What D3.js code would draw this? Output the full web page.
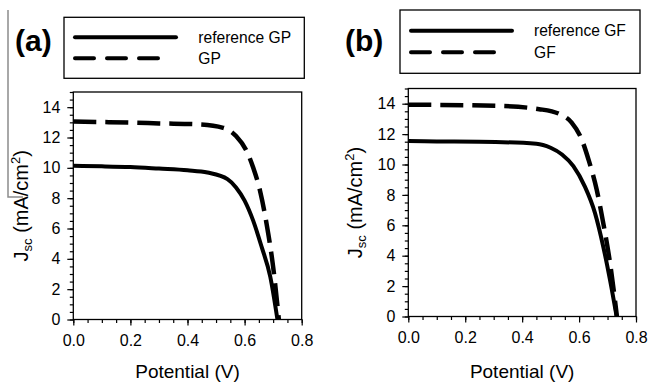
<!DOCTYPE html>
<html lang="en">
<head>
<meta charset="UTF-8">
<title>J-V curves</title>
<style>
    body {
        margin: 0;
        padding: 0;
        background: #fff;
        overflow: hidden;
    }
    svg text {
        font-family: "Liberation Sans", Arial, sans-serif;
        fill: #000;
    }
</style>
</head>
<body>
<div id="chart"></div>
<script src="https://d3js.org/d3.v7.min.js"></script>
<script>
    // panel (a): reference GP vs GP
    const voltsRefGP = [0, 0.1, 0.2, 0.3, 0.4, 0.47, 0.54, 0.57, 0.60, 0.63, 0.66, 0.69, 0.715];
    const jscRefGP   = [10.13, 10.1, 10.05, 9.95, 9.84, 9.69, 9.26, 8.71, 7.84, 6.52, 4.77, 2.81, 0];
    const voltsGP    = [0, 0.1, 0.2, 0.3, 0.44, 0.525, 0.57, 0.607, 0.63, 0.654, 0.677, 0.70, 0.72];
    const jscGP      = [13.05, 13.02, 12.98, 12.93, 12.87, 12.64, 12.1, 11.11, 10.02, 8.49, 6.31, 3.46, 0];

    // panel (b): reference GF vs GF
    const voltsRefGF = [0, 0.1, 0.25, 0.45, 0.5, 0.54, 0.58, 0.62, 0.656, 0.685, 0.709, 0.732];
    const jscRefGF   = [11.54, 11.52, 11.5, 11.37, 11.1, 10.66, 9.89, 8.56, 6.8, 4.59, 2.38, 0];
    const voltsGF    = [0, 0.1, 0.31, 0.46, 0.533, 0.574, 0.609, 0.633, 0.662, 0.685, 0.709, 0.733];
    const jscGF      = [13.93, 13.92, 13.86, 13.64, 13.31, 12.76, 11.66, 10.33, 8.34, 6.14, 3.49, 0];

    const xTicks = [0, 0.2, 0.4, 0.6, 0.8];
    const yTicks = [0, 2, 4, 6, 8, 10, 12, 14];

    const W = 648, H = 382;
    const svg = d3.select('#chart').append('svg')
        .attr('width', W)
        .attr('height', H);

    // stray grey line at the far left of the original figure
    svg.append('path')
        .attr('d', 'M8,10 V197 H23')
        .attr('fill', 'none')
        .attr('stroke', '#8c8c8c')
        .attr('stroke-width', 1.5);

    const zip = (xs, ys) => xs.map((x, i) => ({ v: x, j: ys[i] }));

    function drawPanel(p) {
        const x = d3.scaleLinear().domain([0, 0.8]).range([p.left, p.right]);
        const y = d3.scaleLinear().domain([0, 15]).range([p.bottom, p.top]);
        const g = svg.append('g');

        // frame
        g.append('rect')
            .attr('x', p.left).attr('y', p.top)
            .attr('width', p.right - p.left).attr('height', p.bottom - p.top)
            .attr('fill', 'none').attr('stroke', '#000').attr('stroke-width', 1.3);

        // minor ticks
        g.append('g')
            .attr('transform', `translate(0,${p.bottom})`)
            .call(d3.axisBottom(x).tickValues(d3.range(0, 0.8001, 0.05)).tickSize(3.5).tickFormat(''))
            .call(a => a.select('.domain').remove());
        g.append('g')
            .attr('transform', `translate(${p.left},0)`)
            .call(d3.axisLeft(y).tickValues(d3.range(0, 15.001, 0.5)).tickSize(3.5).tickFormat(''))
            .call(a => a.select('.domain').remove());

        // major ticks + labels
        const xa = g.append('g')
            .attr('transform', `translate(0,${p.bottom})`)
            .call(d3.axisBottom(x).tickValues(xTicks).tickSize(6).tickPadding(9).tickFormat(d3.format('.1f')));
        xa.select('.domain').remove();
        xa.selectAll('text').style('font-size', '16px');

        const ya = g.append('g')
            .attr('transform', `translate(${p.left},0)`)
            .call(d3.axisLeft(y).tickValues(yTicks).tickSize(6).tickPadding(7));
        ya.select('.domain').remove();
        ya.selectAll('text').style('font-size', '16px');

        g.selectAll('.tick line').attr('stroke', '#000').attr('stroke-width', 1.2);

        // axis titles
        g.append('text')
            .attr('x', (p.left + p.right) / 2)
            .attr('y', 378)
            .attr('text-anchor', 'middle')
            .style('font-size', '19px')
            .text('Potential (V)');

        const yl = g.append('text')
            .attr('transform', `translate(${p.ylabelX},${(p.top + p.bottom) / 2}) rotate(-90)`)
            .attr('text-anchor', 'middle')
            .style('font-size', '20px');
        yl.append('tspan').text('J');
        yl.append('tspan').attr('dy', 4).style('font-size', '13px').text('sc');
        yl.append('tspan').attr('dy', -4).text(' (mA/cm');
        yl.append('tspan').attr('dy', -8).style('font-size', '13px').text('2');
        yl.append('tspan').attr('dy', 8).text(')');

        // curves
        const line = d3.line()
            .x(d => x(d.v))
            .y(d => y(d.j))
            .curve(d3.curveMonotoneX);

        g.append('path')
            .datum(zip(p.refV, p.refJ))
            .attr('d', line)
            .attr('fill', 'none')
            .attr('stroke', '#000')
            .attr('stroke-width', 4);

        g.append('path')
            .datum(zip(p.sampV, p.sampJ))
            .attr('d', line)
            .attr('fill', 'none')
            .attr('stroke', '#000')
            .attr('stroke-width', 4.5)
            .attr('stroke-dasharray', '23,9');

        // panel letter
        g.append('text')
            .attr('x', p.letterX)
            .attr('y', 51)
            .style('font-size', '30px')
            .style('font-weight', 'bold')
            .text(p.letter);

        // legend
        const lg = p.legend;
        g.append('rect')
            .attr('x', lg.x0).attr('y', lg.y0)
            .attr('width', lg.x1 - lg.x0).attr('height', lg.y1 - lg.y0)
            .attr('fill', '#fff').attr('stroke', '#000').attr('stroke-width', 1.3);
        g.append('line')
            .attr('x1', lg.lineX0).attr('x2', lg.lineX0 + 101)
            .attr('y1', lg.row1).attr('y2', lg.row1)
            .attr('stroke', '#000').attr('stroke-width', 4).attr('stroke-linecap', 'round');
        g.append('line')
            .attr('x1', lg.lineX0).attr('x2', lg.lineX0 + 88)
            .attr('y1', lg.row2).attr('y2', lg.row2)
            .attr('stroke', '#000').attr('stroke-width', 4).attr('stroke-linecap', 'round')
            .attr('stroke-dasharray', '19,13');
        g.append('text')
            .attr('x', lg.textX).attr('y', lg.row1 + 5.5)
            .style('font-size', '15.6px')
            .text(p.refName);
        g.append('text')
            .attr('x', lg.textX).attr('y', lg.row2 + 5.5)
            .style('font-size', '15.6px')
            .text(p.sampName);
    }

    drawPanel({
        left: 73.3, right: 301.7, top: 92, bottom: 319.5,
        ylabelX: 28, letter: '(a)', letterX: 15,
        refV: voltsRefGP, refJ: jscRefGP, sampV: voltsGP, sampJ: jscGP,
        refName: 'reference GP', sampName: 'GP',
        legend: { x0: 64, y0: 17.3, x1: 304.3, y1: 78.3, lineX0: 75, row1: 37.3, row2: 58.3, textX: 198.3 }
    });

    drawPanel({
        left: 408.3, right: 636, top: 88.5, bottom: 316.5,
        ylabelX: 362, letter: '(b)', letterX: 345,
        refV: voltsRefGF, refJ: jscRefGF, sampV: voltsGF, sampJ: jscGF,
        refName: 'reference GF', sampName: 'GF',
        legend: { x0: 400, y0: 10, x1: 640, y1: 73.3, lineX0: 411, row1: 30.7, row2: 52.3, textX: 534 }
    });
</script>
</body>
</html>
